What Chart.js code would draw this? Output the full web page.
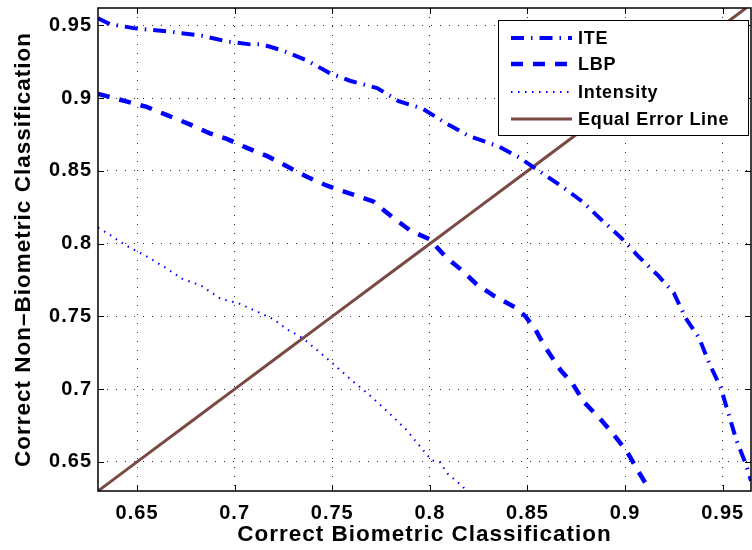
<!DOCTYPE html>
<html>
<head>
<meta charset="utf-8">
<script src="https://cdn.jsdelivr.net/npm/chart.js@4.4.1/dist/chart.umd.min.js"></script>
<style>
  html, body { margin: 0; padding: 0; background: #fff; }
  canvas { display: block; }
</style>
</head>
<body>
<canvas id="roc" width="752" height="550"></canvas>
<script>
// values
const seriesNames = ['ITE', 'LBP', 'Intensity', 'Equal Error Line'];

const iteX = [0.63, 0.636, 0.649, 0.665, 0.683, 0.696, 0.708, 0.714, 0.724, 0.737, 0.749, 0.759, 0.773, 0.784, 0.796, 0.808, 0.820, 0.835, 0.846, 0.857, 0.868, 0.878, 0.889, 0.898, 0.907, 0.917, 0.925, 0.931, 0.938, 0.943, 0.949, 0.953, 0.957, 0.962, 0.9645];
const iteY = [0.955, 0.951, 0.948, 0.946, 0.943, 0.939, 0.937, 0.937, 0.933, 0.926, 0.917, 0.912, 0.907, 0.898, 0.893, 0.883, 0.874, 0.867, 0.859, 0.849, 0.839, 0.829, 0.815, 0.804, 0.791, 0.778, 0.766, 0.749, 0.735, 0.718, 0.701, 0.683, 0.665, 0.648, 0.637];

const lbpX = [0.63, 0.644, 0.655, 0.666, 0.677, 0.687, 0.696, 0.706, 0.717, 0.727, 0.737, 0.747, 0.758, 0.771, 0.781, 0.790, 0.800, 0.808, 0.817, 0.824, 0.833, 0.844, 0.849, 0.854, 0.859, 0.867, 0.873, 0.879, 0.887, 0.894, 0.901, 0.907, 0.912, 0.913];
const lbpY = [0.903, 0.898, 0.894, 0.888, 0.882, 0.876, 0.872, 0.866, 0.860, 0.853, 0.846, 0.840, 0.835, 0.829, 0.818, 0.809, 0.803, 0.791, 0.781, 0.772, 0.764, 0.756, 0.750, 0.741, 0.729, 0.713, 0.704, 0.691, 0.680, 0.669, 0.657, 0.643, 0.632, 0.63];

const intX = [0.63, 0.635, 0.644, 0.654, 0.664, 0.673, 0.683, 0.693, 0.702, 0.712, 0.720, 0.727, 0.735, 0.743, 0.750, 0.760, 0.769, 0.778, 0.788, 0.796, 0.801, 0.805, 0.809, 0.817, 0.818];
const intY = [0.811, 0.807, 0.799, 0.792, 0.784, 0.776, 0.771, 0.762, 0.759, 0.753, 0.748, 0.741, 0.735, 0.726, 0.718, 0.706, 0.696, 0.685, 0.672, 0.659, 0.651, 0.650, 0.642, 0.633, 0.63];

const eerX = [0.63, 0.65, 0.68, 0.70, 0.72, 0.75, 0.78, 0.80, 0.82, 0.85, 0.88, 0.90, 0.92, 0.95, 0.962];
const eerY = [0.63, 0.65, 0.68, 0.70, 0.72, 0.75, 0.78, 0.80, 0.82, 0.85, 0.88, 0.90, 0.92, 0.95, 0.962];

const xTickValues = [0.65, 0.7, 0.75, 0.8, 0.85, 0.9, 0.95];
const xTickLabels = ['0.65', '0.7', '0.75', '0.8', '0.85', '0.9', '0.95'];
const yTickValues = [0.65, 0.7, 0.75, 0.8, 0.85, 0.9, 0.95];
const yTickLabels = ['0.65', '0.7', '0.75', '0.8', '0.85', '0.9', '0.95'];

const zip = (xs, ys) => xs.map((x, i) => ({ x: x, y: ys[i] }));

const FONT = '"Liberation Sans", Arial, Helvetica, sans-serif';

// no extra room for overhanging tick labels
const noOverhang = s => { s.paddingTop = 0; s.paddingBottom = 0; s.paddingLeft = 0; s.paddingRight = 0; };

// MATLAB style box, inward ticks and the legend box
const matlabAxes = {
	id: 'matlabAxes',
	beforeDraw(chart) {
		chart.ctx.letterSpacing = '1px';
	},
	afterDatasetsDraw(chart) {
		const { ctx, chartArea: a } = chart;
		const xs = chart.scales.x, ys = chart.scales.y;
		ctx.save();
		ctx.letterSpacing = '0px';
		ctx.strokeStyle = '#000';
		ctx.lineWidth = 1;
		ctx.setLineDash([]);
		ctx.beginPath();
		xTickValues.forEach(v => {
			const px = Math.round(xs.getPixelForValue(v)) + 0.5;
			ctx.moveTo(px, a.bottom); ctx.lineTo(px, a.bottom - 6);
			ctx.moveTo(px, a.top); ctx.lineTo(px, a.top + 6);
		});
		yTickValues.forEach(v => {
			const py = Math.round(ys.getPixelForValue(v)) + 0.5;
			ctx.moveTo(a.left, py); ctx.lineTo(a.left + 6, py);
			ctx.moveTo(a.right, py); ctx.lineTo(a.right - 6, py);
		});
		ctx.stroke();
		ctx.lineWidth = 1.5;
		ctx.strokeRect(a.left, a.top, a.right - a.left, a.bottom - a.top);

		// legend
		const lx = 498, ly = 20, lw = 250, lh = 115;
		ctx.fillStyle = '#fff';
		ctx.fillRect(lx, ly, lw, lh);
		ctx.lineWidth = 1;
		ctx.strokeRect(lx + 0.5, ly + 0.5, lw, lh);
		ctx.font = 'bold 18px ' + FONT;
		ctx.letterSpacing = '0.7px';
		ctx.textBaseline = 'middle';
		ctx.textAlign = 'left';
		const rows = [38, 64, 92, 119];
		chart.data.datasets.forEach((ds, i) => {
			const y = rows[i];
			ctx.strokeStyle = ds.borderColor;
			ctx.lineWidth = ds.borderWidth;
			ctx.setLineDash(ds.borderDash || []);
			ctx.beginPath();
			ctx.moveTo(511, y); ctx.lineTo(572, y);
			ctx.stroke();
			ctx.setLineDash([]);
			ctx.fillStyle = '#000';
			ctx.fillText(ds.label, 578, y + 1);
		});
		ctx.restore();
	}
};

new Chart(document.getElementById('roc'), {
	type: 'line',
	data: {
		datasets: [
			{ label: seriesNames[0], data: zip(iteX, iteY), borderColor: '#0000ff', borderWidth: 4, borderDash: [13, 7, 1.5, 7] },
			{ label: seriesNames[1], data: zip(lbpX, lbpY), borderColor: '#0000ff', borderWidth: 4.5, borderDash: [12, 10] },
			{ label: seriesNames[2], data: zip(intX, intY), borderColor: '#0000ff', borderWidth: 2, borderDash: [1.5, 5.5] },
			{ label: seriesNames[3], data: zip(eerX, eerY), borderColor: '#7a4943', borderWidth: 3 }
		]
	},
	options: {
		responsive: false,
		animation: false,
		devicePixelRatio: 1,
		layout: { padding: { top: 8, right: 1, left: 0, bottom: 0 } },
		elements: { point: { radius: 0 }, line: { tension: 0, borderCapStyle: 'butt' } },
		plugins: { legend: { display: false }, tooltip: { enabled: false } },
		scales: {
			x: {
				type: 'linear',
				min: 0.63,
				max: 0.9645,
				afterBuildTicks: s => { s.ticks = xTickValues.map(v => ({ value: v })); },
				afterFit: s => { s.height = 59; noOverhang(s); },
				ticks: {
					callback: (v, i) => xTickLabels[i],
					color: '#000',
					padding: 10,
					maxRotation: 0,
					font: { family: FONT, size: 20, weight: 'bold' }
				},
				grid: { color: '#333', lineWidth: 1, drawTicks: false },
				border: { display: false, dash: [1, 8] },
				title: {
					display: true,
					text: 'Correct Biometric Classification',
					color: '#000',
					padding: { top: 0, bottom: 2 },
					font: { family: FONT, size: 22.5, weight: 'bold', lineHeight: 1.2 }
				}
			},
			y: {
				type: 'linear',
				min: 0.63,
				max: 0.962,
				afterBuildTicks: s => { s.ticks = yTickValues.map(v => ({ value: v })); },
				afterFit: s => { s.width = 98; noOverhang(s); },
				ticks: {
					callback: (v, i) => yTickLabels[i],
					color: '#000',
					padding: 6,
					font: { family: FONT, size: 20, weight: 'bold' }
				},
				grid: { color: '#333', lineWidth: 1, drawTicks: false },
				border: { display: false, dash: [1, 8] },
				title: {
					display: true,
					text: 'Correct Non–Biometric Classification',
					color: '#000',
					padding: { top: 10, bottom: 0 },
					font: { family: FONT, size: 22.5, weight: 'bold', lineHeight: 1.2 }
				}
			}
		}
	},
	plugins: [matlabAxes]
});
</script>
</body>
</html>
